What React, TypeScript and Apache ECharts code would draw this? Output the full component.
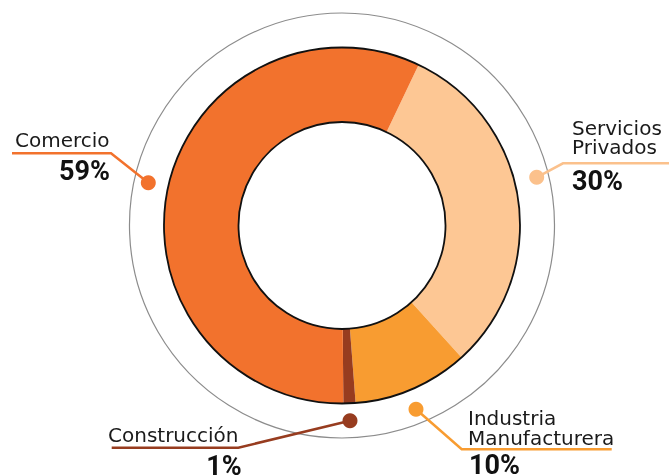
import React, { useEffect, useRef } from "react";
import * as echarts from "echarts";

// Data (slice order clockwise from the Comercio/Servicios boundary)
const categories = ["Servicios Privados", "Industria Manufacturera", "Construcción", "Comercio"];
const values = [31.2, 10.5, 1.1, 57.2];
const percentLabels = ["30%", "10%", "1%", "59%"];
const nameLines = [["Servicios", "Privados"], ["Industria", "Manufacturera"], ["Construcción"], ["Comercio"]];
const colors = ["#FDC794", "#F89C31", "#973C1F", "#F2722D"];

// Layout of callouts (positions only)
const callouts = [
  { dot: [536.7, 177.3], line: [[669, 163.3], [563, 163.3]], nameX: 572, nameY: 137.5, lh: 19, pctX: 572, pctY: 181, pctAlign: "left", lineColor: "#FBC18C" },
  { dot: [416, 409.3], line: [[611.7, 449.3], [461.7, 449.3]], nameX: 468, nameY: 428, lh: 20, pctX: 469, pctY: 465, pctAlign: "left", lineColor: "#F89C31" },
  { dot: [350, 420.7], line: [[111.7, 447.7], [238.3, 447.7]], nameX: 108, nameY: 435.3, lh: 20, pctX: 241.7, pctY: 466, pctAlign: "right", lineColor: "#973C1F" },
  { dot: [148.3, 182.7], line: [[12, 153.3], [111, 153.3]], nameX: 15, nameY: 140, lh: 20, pctX: 110, pctY: 170.5, pctAlign: "right", lineColor: "#F2722D" },
];

const CENTER = [342, 225.5];

export default function App() {
  const ref = useRef<HTMLDivElement>(null);
  useEffect(() => {
    if (!ref.current) return;
    const chart = echarts.init(ref.current, undefined, { renderer: "svg" });
    const graphics: any[] = [];
    callouts.forEach((c, i) => {
      graphics.push({
        type: "polyline",
        z: 10,
        shape: { points: [...c.line, c.dot] },
        style: { stroke: c.lineColor, fill: "none", lineWidth: 2.5 },
      });
      graphics.push({
        type: "circle",
        z: 11,
        shape: { cx: c.dot[0], cy: c.dot[1], r: 7.5 },
        style: { fill: c.lineColor },
      });
      graphics.push({
        type: "text",
        z: 12,
        x: c.nameX,
        y: c.nameY,
        style: {
          text: nameLines[i].join("\n"),
          fill: "#1a1a1a",
          fontFamily: "DejaVu Sans",
          fontSize: 20,
          lineHeight: c.lh,
          textAlign: "left",
          textVerticalAlign: "middle",
        },
      });
      graphics.push({
        type: "text",
        z: 12,
        x: c.pctX,
        y: c.pctY,
        style: {
          text: percentLabels[i],
          fill: "#111",
          fontFamily: "Roboto",
          fontWeight: "bold",
          fontSize: 27,
          textAlign: c.pctAlign,
          textVerticalAlign: "middle",
        },
      });
    });

    chart.setOption({
      animation: false,
      graphic: graphics,
      series: [
        {
          type: "pie",
          silent: true,
          center: CENTER,
          radius: [0, 212.5],
          label: { show: false },
          labelLine: { show: false },
          data: [{ value: 1, itemStyle: { color: "rgba(0,0,0,0)", borderColor: "#8c8c8c", borderWidth: 1.2 } }],
          z: 1,
        },
        {
          type: "pie",
          silent: true,
          center: CENTER,
          radius: [103.5, 178],
          startAngle: 64.5,
          clockwise: true,
          label: { show: false },
          labelLine: { show: false },
          itemStyle: { borderWidth: 0 },
          data: categories.map((n, i) => ({ name: n, value: values[i], itemStyle: { color: colors[i] } })),
          z: 2,
        },
        {
          type: "pie",
          silent: true,
          center: CENTER,
          radius: [103.5, 178],
          label: { show: false },
          labelLine: { show: false },
          data: [{ value: 1, itemStyle: { color: "rgba(0,0,0,0)", borderColor: "#111", borderWidth: 1.8 } }],
          z: 3,
        },
      ],
    });
    return () => chart.dispose();
  }, []);
  return <div ref={ref} style={{ position: "fixed", left: 0, top: 0, width: 669, height: 475 }} />;
}
